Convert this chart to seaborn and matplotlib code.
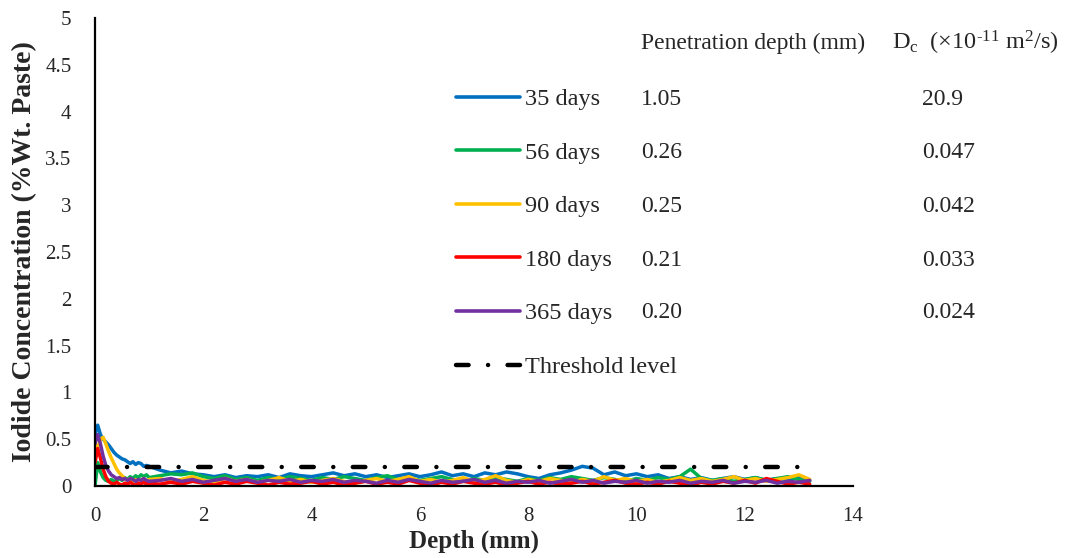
import numpy as np
import pandas as pd
import matplotlib
matplotlib.use("Agg")
import matplotlib.pyplot as plt
import seaborn as sns

# ---------------- data ----------------
depth_head = [0.0, 0.05, 0.1, 0.15, 0.2, 0.25, 0.3, 0.35, 0.4, 0.45, 0.5,
              0.55, 0.6, 0.65, 0.7, 0.75, 0.8, 0.85, 0.9, 0.95, 1.0]
depth_tail = [1.2, 1.4, 1.6, 1.8, 2.0, 2.2, 2.4, 2.6, 2.8, 3.0, 3.2, 3.4, 3.6, 3.8,
              4.0, 4.2, 4.4, 4.6, 4.8, 5.0, 5.2, 5.4, 5.6, 5.8, 6.0, 6.2, 6.4, 6.6,
              6.8, 7.0, 7.2, 7.4, 7.6, 7.8, 8.0, 8.2, 8.4, 8.6, 8.8, 9.0, 9.2, 9.4,
              9.6, 9.8, 10.0, 10.2, 10.4, 10.6, 10.8, 11.0, 11.2, 11.4, 11.6, 11.8,
              12.0, 12.2, 12.4, 12.6, 12.8, 13.0, 13.2]
depth = depth_head + depth_tail

conc_35 = [0.55, 0.65, 0.55, 0.50, 0.47, 0.44, 0.40, 0.36, 0.33, 0.31, 0.29,
           0.28, 0.26, 0.24, 0.26, 0.23, 0.25, 0.24, 0.21, 0.22, 0.21,
           0.17, 0.14, 0.16, 0.13, 0.12, 0.10, 0.12, 0.09, 0.11, 0.10, 0.12, 0.09, 0.13, 0.11,
           0.10, 0.12, 0.14, 0.11, 0.13, 0.10, 0.12, 0.09, 0.11, 0.13, 0.10, 0.12, 0.15, 0.11,
           0.13, 0.10, 0.14, 0.12, 0.15, 0.13, 0.10, 0.08, 0.12, 0.14, 0.17, 0.21, 0.19, 0.12,
           0.15, 0.11, 0.13, 0.10, 0.12, 0.08, 0.10, 0.07, 0.09, 0.06, 0.08, 0.10,
           0.07, 0.09, 0.06, 0.08, 0.07, 0.09, 0.06]
conc_56 = [0.00, 0.25, 0.15, 0.09, 0.06, 0.05, 0.07, 0.05, 0.06, 0.08, 0.06,
           0.09, 0.07, 0.10, 0.08, 0.11, 0.09, 0.12, 0.10, 0.12, 0.09,
           0.11, 0.13, 0.12, 0.14, 0.10, 0.08, 0.11, 0.07, 0.09, 0.06, 0.09, 0.07, 0.10, 0.08,
           0.06, 0.09, 0.07, 0.10, 0.08, 0.06, 0.09, 0.11, 0.07, 0.09, 0.06, 0.08, 0.10, 0.07,
           0.05, 0.08, 0.06, 0.09, 0.07, 0.05, 0.08, 0.06, 0.09, 0.07, 0.10, 0.08, 0.06, 0.09,
           0.07, 0.05, 0.08, 0.06, 0.09, 0.07, 0.10, 0.18, 0.08, 0.06, 0.08, 0.05,
           0.07, 0.09, 0.06, 0.08, 0.10, 0.07, 0.05]
conc_90 = [0.45, 0.40, 0.50, 0.52, 0.45, 0.37, 0.30, 0.24, 0.18, 0.14, 0.11,
           0.08, 0.06, 0.08, 0.05, 0.07, 0.04, 0.06, 0.08, 0.05, 0.07,
           0.08, 0.05, 0.07, 0.10, 0.06, 0.04, 0.08, 0.05, 0.07, 0.04, 0.06, 0.09, 0.05, 0.07,
           0.04, 0.06, 0.08, 0.05, 0.03, 0.06, 0.08, 0.05, 0.07, 0.10, 0.05, 0.07, 0.04, 0.06,
           0.09, 0.05, 0.07, 0.11, 0.06, 0.04, 0.07, 0.05, 0.08, 0.06, 0.04, 0.07, 0.05, 0.10,
           0.06, 0.08, 0.05, 0.07, 0.04, 0.06, 0.09, 0.06, 0.08, 0.05, 0.07, 0.10,
           0.06, 0.08, 0.05, 0.07, 0.09, 0.12, 0.07]
conc_180 = [0.25, 0.40, 0.30, 0.18, 0.10, 0.05, 0.03, 0.02, 0.04, 0.02, 0.01,
            0.03, 0.02, 0.04, 0.02, 0.01, 0.03, 0.02, 0.04, 0.02, 0.03,
            0.02, 0.04, 0.02, 0.05, 0.03, 0.01, 0.04, 0.02, 0.05, 0.03, 0.01, 0.04, 0.02, 0.03,
            0.05, 0.02, 0.04, 0.01, 0.03, 0.05, 0.02, 0.04, 0.02, 0.06, 0.03, 0.01, 0.04, 0.02,
            0.05, 0.03, 0.02, 0.04, 0.01, 0.03, 0.05, 0.02, 0.04, 0.02, 0.03, 0.05, 0.02, 0.04,
            0.06, 0.03, 0.02, 0.04, 0.02, 0.05, 0.03, 0.01, 0.04, 0.02, 0.05, 0.03,
            0.06, 0.03, 0.08, 0.05, 0.02, 0.04, 0.02]
conc_365 = [0.45, 0.55, 0.45, 0.32, 0.22, 0.16, 0.12, 0.10, 0.08, 0.09, 0.07,
            0.08, 0.06, 0.08, 0.07, 0.05, 0.07, 0.06, 0.08, 0.06, 0.05,
            0.06, 0.08, 0.05, 0.07, 0.04, 0.06, 0.08, 0.05, 0.07, 0.04, 0.06, 0.05, 0.07, 0.04,
            0.06, 0.05, 0.07, 0.04, 0.06, 0.05, 0.03, 0.06, 0.04, 0.07, 0.05, 0.03, 0.06, 0.04,
            0.05, 0.07, 0.04, 0.06, 0.03, 0.05, 0.04, 0.06, 0.03, 0.05, 0.07, 0.04, 0.06, 0.03,
            0.05, 0.04, 0.06, 0.03, 0.05, 0.04, 0.06, 0.03, 0.05, 0.04, 0.06, 0.03,
            0.05, 0.04, 0.06, 0.03, 0.05, 0.04, 0.06]

threshold_x = [0.0, 13.0]
threshold_y = [0.2, 0.2]

series_labels = ["35 days", "56 days", "90 days", "180 days", "365 days"]
series_values = [conc_35, conc_56, conc_90, conc_180, conc_365]
series_colors = ["#0070C0", "#00B050", "#FFC000", "#FF0000", "#7030A0"]
pen_depth = ["1.05", "0.26", "0.25", "0.21", "0.20"]
diff_coef = ["20.9", "0.047", "0.042", "0.033", "0.024"]

x_ticks = [0, 2, 4, 6, 8, 10, 12, 14]
y_ticks = [0, 0.5, 1, 1.5, 2, 2.5, 3, 3.5, 4, 4.5, 5]
y_ticklabels = ["0", "0.5", "1", "1.5", "2", "2.5", "3", "3.5", "4", "4.5", "5"]

# ---------------- style ----------------
sns.set_style("white")
plt.rcParams["font.family"] = ["Liberation Serif", "DejaVu Serif"]
plt.rcParams["mathtext.fontset"] = "custom"
plt.rcParams["mathtext.rm"] = "Liberation Serif"
plt.rcParams["mathtext.it"] = "Liberation Serif:italic"

W, H = 1073, 558
fig = plt.figure(figsize=(W / 100, H / 100), dpi=100)
ax = fig.add_axes([95 / W, 1 - 486 / H, (853 - 95) / W, (486 - 18) / H])

df = pd.DataFrame({
    "Depth": np.concatenate([depth] * len(series_labels)),
    "Conc": np.concatenate(series_values),
    "Series": np.repeat(series_labels, len(depth)),
})

sns.lineplot(data=df, x="Depth", y="Conc", hue="Series", hue_order=series_labels,
             palette=dict(zip(series_labels, series_colors)), linewidth=2.5,
             sort=False, estimator=None, ax=ax, legend=True)

thr, = ax.plot(threshold_x, threshold_y, color="black", linewidth=3.2,
               dash_capstyle="round", label="Threshold level")
thr.set_dashes((2.83, 4.38, 0.01, 4.38))

ax.set_xlim(0, 14)
ax.set_ylim(0, 5)
ax.set_xticks(x_ticks)
ax.set_xticklabels([str(t) for t in x_ticks])
ax.set_yticks(y_ticks)
ax.set_yticklabels(y_ticklabels)
ax.tick_params(axis="both", length=0, labelsize=15)
ax.tick_params(axis="y", pad=17)
ax.tick_params(axis="x", pad=15)

for s in ["top", "right"]:
    ax.spines[s].set_visible(False)
for s in ["left", "bottom"]:
    ax.spines[s].set_color("black")
    ax.spines[s].set_linewidth(1.6)

ax.set_xlabel("Depth (mm)", fontsize=18, fontweight="bold", labelpad=3)
ax.set_ylabel("Iodide Concentration (%Wt. Paste)", fontsize=20, fontweight="bold", labelpad=6)

handles, labels = ax.get_legend_handles_labels()
leg = ax.legend(handles, labels, loc="upper left",
                bbox_to_anchor=(456 / W, 1 - 88 / H), bbox_transform=fig.transFigure,
                frameon=False, fontsize=17.5, handlelength=2.65, handletextpad=0.18,
                labelspacing=1.3, borderpad=0, borderaxespad=0)
for h in leg.legend_handles:
    h.set_linewidth(3.2 if h.get_label() == "Threshold level" else 2.6)

# table text
fs = 17
fig.text(641 / W, 1 - 43 / H, "Penetration depth (mm)", fontsize=fs, va="center", ha="left")
fig.text(892 / W, 1 - 43 / H, r"D$_{\mathrm{c}}$  (×10$^{\text{-11}}$ m$^{\mathrm{2}}$/s)",
         fontsize=17.5, va="center", ha="left")
row_y = [99, 153, 206, 260, 313]
for yy, p, d in zip(row_y, pen_depth, diff_coef):
    fig.text(641 / W, 1 - yy / H, p, fontsize=fs, va="center", ha="left")
    fig.text(922 / W, 1 - yy / H, d, fontsize=fs, va="center", ha="left")

fig.savefig("out.png", dpi=100)
